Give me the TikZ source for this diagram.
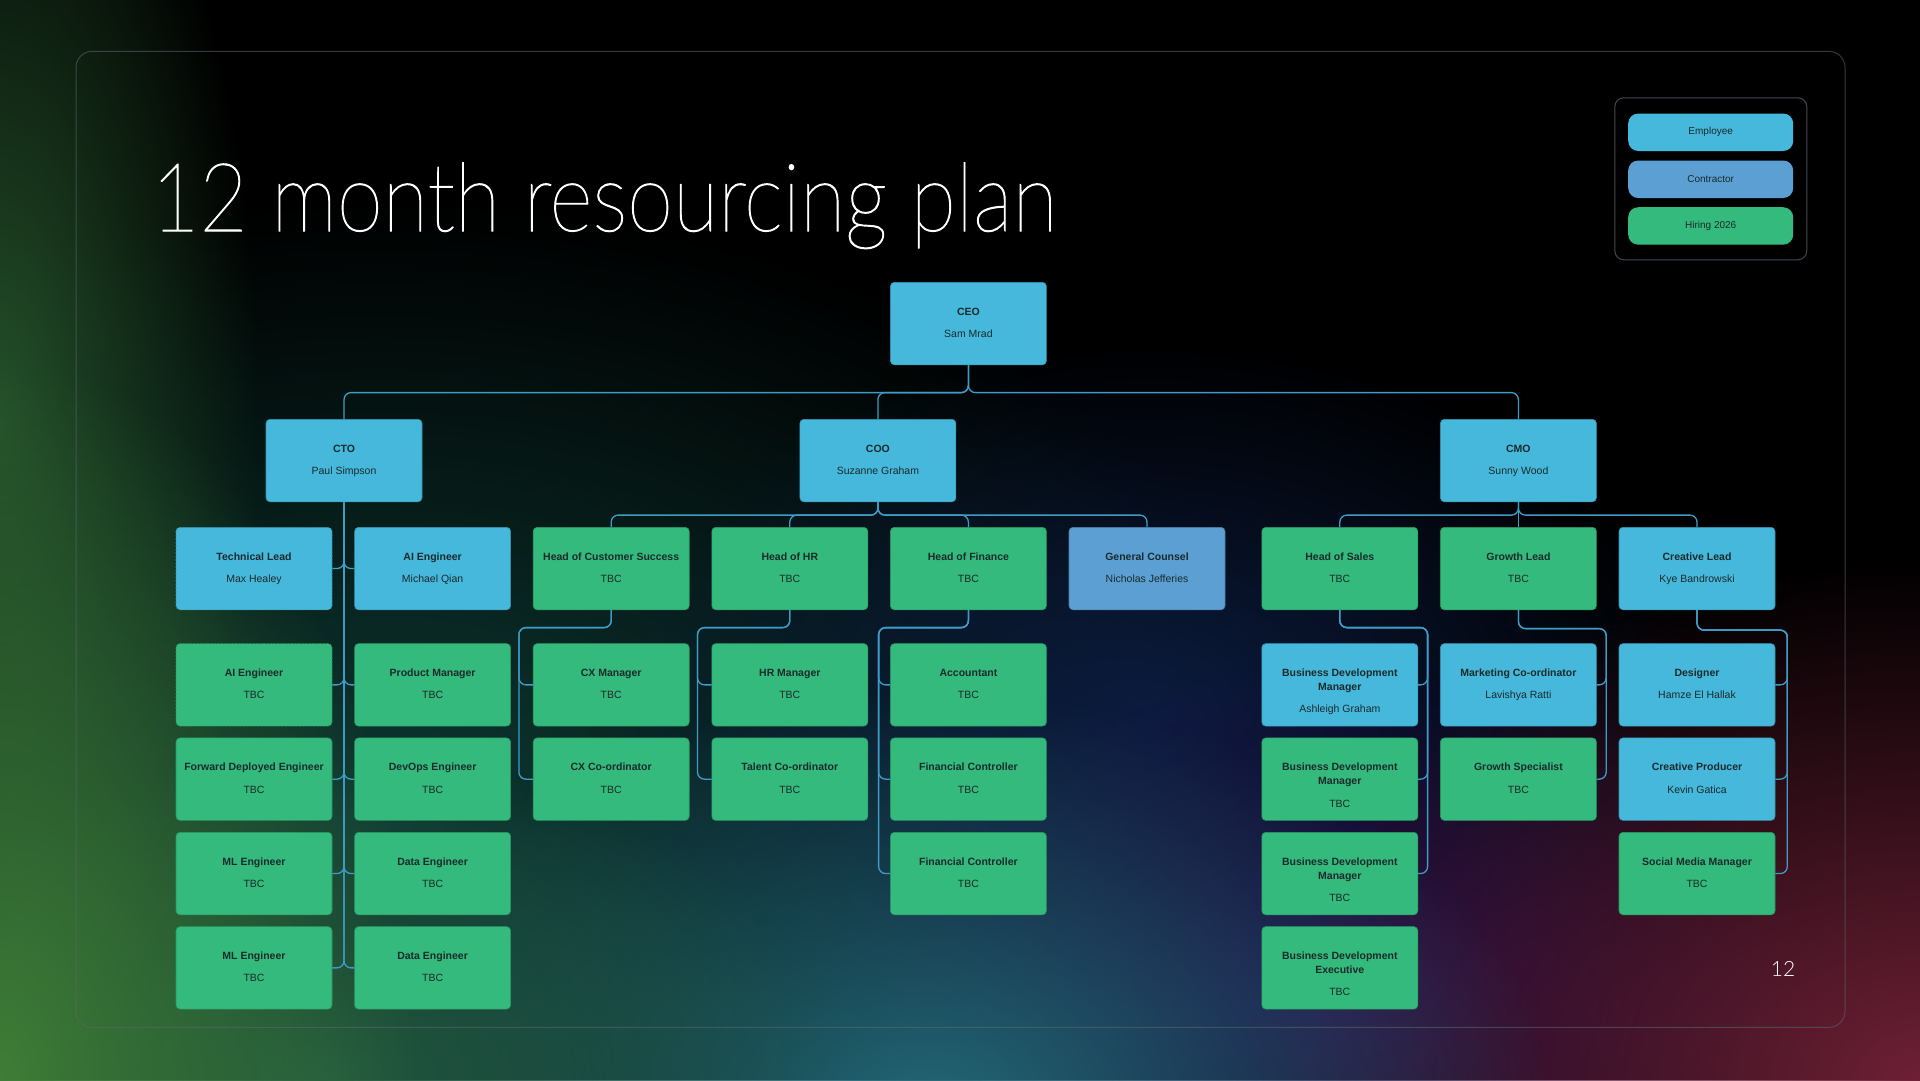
\documentclass[tikz,border=0pt]{standalone}
\usepackage{fontspec}
\usepackage{graphicx}
\setmainfont{Liberation Sans}
\newfontfamily\titlefont[FakeBold=1.1]{Lato Thin}
\newfontfamily\numfont{Lato Light}
\usetikzlibrary{fadings,calc}
\definecolor{emp}{HTML}{45B8DB}
\definecolor{con}{HTML}{5C9FD2}
\definecolor{hir}{HTML}{34BA7C}
\definecolor{txt}{HTML}{1B2A2C}
\definecolor{linec}{HTML}{3F9CC6}
\definecolor{gA}{HTML}{24502A}
\definecolor{gB}{HTML}{3F7E37}
\definecolor{gC}{HTML}{235A40}
\definecolor{tealA}{HTML}{236878}
\definecolor{tealD}{HTML}{0E3A34}
\definecolor{navy}{HTML}{0C1C40}
\definecolor{purp}{HTML}{220C4A}
\definecolor{maroon}{HTML}{6E2036}
\definecolor{framec}{HTML}{5A6870}
\tikzfading[name=fadeRad, inner color=transparent!0, outer color=transparent!100]
\tikzset{
 conn/.style={draw=linec, line width=1.3pt, rounded corners=7pt},
 card/.style={rectangle, rounded corners=4pt, minimum width=156pt, minimum height=82.5pt, inner sep=0pt, line width=0.6pt},
 empc/.style={fill=emp, draw=emp!80!black},
 conc/.style={fill=con, draw=con!80!black},
 hirc/.style={fill=hir, draw=hir!80!black},
 dashc/.style={dash pattern=on 2pt off 1.5pt},
 ttl/.style={anchor=base, inner sep=0pt, text=txt, font=\bfseries\fontsize{10.5}{12}\selectfont},
 subt/.style={anchor=base, inner sep=0pt, text=txt, font=\fontsize{10.5}{12}\selectfont},
 legitem/.style={rectangle, rounded corners=10pt, minimum width=165pt, minimum height=37.5pt, inner sep=0pt, anchor=north west, text=txt, font=\fontsize{10}{12}\selectfont},
}
\newcommand\cardA[6]{%
 \node[card,#1,anchor=north west] (#2) at (#3,#4) {};
 \node[ttl] (#2t) at ([yshift=-33pt]#2.north) {#5};
 \node[subt] (#2s) at ([yshift=-55.5pt]#2.north) {#6};
}
\newcommand\cardB[7]{%
 \node[card,#1,anchor=north west] (#2) at (#3,#4) {};
 \node[ttl] (#2t) at ([yshift=-33pt]#2.north) {#5};
 \node[ttl] (#2u) at ([yshift=-47pt]#2.north) {#6};
 \node[subt] (#2s) at ([yshift=-69.5pt]#2.north) {#7};
}
\newlength\titlew
\begin{document}
\settowidth{\titlew}{\titlefont\fontsize{95}{95}\selectfont 12 month resourcing plan}%
\pgfmathsetmacro{\sx}{906/\titlew}%
\begin{tikzpicture}[x=1pt,y=-1pt]
\useasboundingbox (0,0) rectangle (1920,1080);
% background
\fill[black] (0,0) rectangle (1920,1080);
\fill[tealD, path fading=fadeRad] (380,820) ellipse (950 and 620);
\fill[navy, path fading=fadeRad] (1150,720) ellipse (560 and 380);
\fill[purp, path fading=fadeRad] (1330,1000) ellipse (520 and 340);
\fill[maroon, path fading=fadeRad] (1920,1080) ellipse (680 and 520);
\fill[tealA, path fading=fadeRad] (930,1110) ellipse (620 and 420);
\fill[gC, path fading=fadeRad] (320,1080) ellipse (520 and 330);
\fill[gA, path fading=fadeRad] (0,420) ellipse (260 and 700);
\fill[gB, path fading=fadeRad] (0,1080) ellipse (420 and 720);
% frame
\draw[framec, opacity=0.55, line width=1pt, rounded corners=16pt] (76,51.4) rectangle (1845,1027.3);
% title
\node[anchor=base west, inner sep=0pt, text=white] (title) at (151,231) {\scalebox{\sx}[1]{\titlefont\fontsize{95}{95}\selectfont 12 month resourcing plan}};
\node[text=white, inner sep=0pt] (pnum) at (1783,969) {\numfont\fontsize{21}{21}\selectfont 12};
% legend
\node[rectangle, rounded corners=9pt, minimum width=192pt, minimum height=162pt, anchor=north west, fill=black, draw=framec!70!black, line width=1pt] (legend) at (1614.3,97.3) {};
\node[legitem, fill=emp] (lemp) at (1628,113.3) {Employee};
\node[legitem, fill=con] (lcon) at (1628,160.3) {Contractor};
\node[legitem, fill=hir] (lhir) at (1628,207) {Hiring 2026};
% cards
\cardA{empc}{ceo}{890.1}{282}{CEO}{Sam Mrad}
\cardA{empc}{cto}{265.7}{419}{CTO}{Paul Simpson}
\cardA{empc}{coo}{799.6}{419}{COO}{Suzanne Graham}
\cardA{empc}{cmo}{1440.1}{419}{CMO}{Sunny Wood}
% row 2
\cardA{empc,dashc}{tl}{175.7}{527}{Technical Lead}{Max Healey}
\cardA{empc}{aie}{354.3}{527}{AI Engineer}{Michael Qian}
\cardA{hirc}{hcs}{532.9}{527}{Head of Customer Success}{TBC}
\cardA{hirc}{hhr}{711.5}{527}{Head of HR}{TBC}
\cardA{hirc}{hfin}{890.1}{527}{Head of Finance}{TBC}
\cardA{conc}{gc}{1068.7}{527}{General Counsel}{Nicholas Jefferies}
\cardA{hirc}{hs}{1261.5}{527}{Head of Sales}{TBC}
\cardA{hirc}{gl}{1440.1}{527}{Growth Lead}{TBC}
\cardA{empc}{cl}{1618.7}{527}{Creative Lead}{Kye Bandrowski}
% row 3
\cardA{hirc,dashc}{aieb}{175.7}{643.3}{AI Engineer}{TBC}
\cardA{hirc}{pm}{354.3}{643.3}{Product Manager}{TBC}
\cardA{hirc}{cxm}{532.9}{643.3}{CX Manager}{TBC}
\cardA{hirc}{hrm}{711.5}{643.3}{HR Manager}{TBC}
\cardA{hirc}{acc}{890.1}{643.3}{Accountant}{TBC}
\cardB{empc}{bdma}{1261.5}{643.3}{Business Development}{Manager}{Ashleigh Graham}
\cardA{empc}{mc}{1440.1}{643.3}{Marketing Co-ordinator}{Lavishya Ratti}
\cardA{empc}{des}{1618.7}{643.3}{Designer}{Hamze El Hallak}
% row 4
\cardA{hirc}{fde}{175.7}{737.6}{Forward Deployed Engineer}{TBC}
\cardA{hirc}{dev}{354.3}{737.6}{DevOps Engineer}{TBC}
\cardA{hirc}{cxc}{532.9}{737.6}{CX Co-ordinator}{TBC}
\cardA{hirc}{tc}{711.5}{737.6}{Talent Co-ordinator}{TBC}
\cardA{hirc}{fca}{890.1}{737.6}{Financial Controller}{TBC}
\cardB{hirc}{bdmb}{1261.5}{737.6}{Business Development}{Manager}{TBC}
\cardA{hirc}{gs}{1440.1}{737.6}{Growth Specialist}{TBC}
\cardA{empc}{cp}{1618.7}{737.6}{Creative Producer}{Kevin Gatica}
% row 5
\cardA{hirc}{mla}{175.7}{832}{ML Engineer}{TBC}
\cardA{hirc}{dea}{354.3}{832}{Data Engineer}{TBC}
\cardA{hirc}{fcb}{890.1}{832}{Financial Controller}{TBC}
\cardB{hirc}{bdmc}{1261.5}{832}{Business Development}{Manager}{TBC}
\cardA{hirc}{smm}{1618.7}{832}{Social Media Manager}{TBC}
% row 6
\cardA{hirc}{mlb}{175.7}{926.3}{ML Engineer}{TBC}
\cardA{hirc}{deb}{354.3}{926.3}{Data Engineer}{TBC}
\cardB{hirc}{bde}{1261.5}{926.3}{Business Development}{Executive}{TBC}
% connectors: CEO
\foreach \c in {cto,coo,cmo} \draw[conn] (ceo.south) -- ++(0,27.5) -| (\c.north);
% COO
\foreach \c in {hcs,hhr,hfin,gc} \draw[conn] (coo.south) -- ++(0,13) -| (\c.north);
% CMO
\foreach \c in {hs,cl} \draw[conn] (cmo.south) -- ++(0,13) -| (\c.north);
\draw[conn] (cmo.south) -- (gl.north);
% CTO trunk
\foreach \c in {tl,aieb,fde,mla,mlb} \draw[conn] (cto.south) |- (\c.east);
\foreach \c in {aie,pm,dev,dea,deb} \draw[conn] (cto.south) |- (\c.west);
% heads, left-side lines
\foreach \c in {cxm,cxc} \draw[conn] (hcs.south) -- ++(0,17.5) -| ([xshift=-14pt]\c.west) -- (\c.west);
\foreach \c in {hrm,tc} \draw[conn] (hhr.south) -- ++(0,17.5) -| ([xshift=-14pt]\c.west) -- (\c.west);
\foreach \c in {acc,fca,fcb} \draw[conn] (hfin.south) -- ++(0,17.5) -| ([xshift=-11.5pt]\c.west) -- (\c.west);
% heads, right-side lines
\foreach \c in {bdma,bdmb,bdmc} \draw[conn] (hs.south) -- ++(0,17.5) -| ([xshift=9.5pt]\c.east) -- (\c.east);
\foreach \c in {mc,gs} \draw[conn] (gl.south) -- ++(0,18.5) -| ([xshift=9.5pt]\c.east) -- (\c.east);
\foreach \c in {des,cp,smm} \draw[conn] (cl.south) -- ++(0,20) -| ([xshift=12pt]\c.east) -- (\c.east);
\end{tikzpicture}
\end{document}
